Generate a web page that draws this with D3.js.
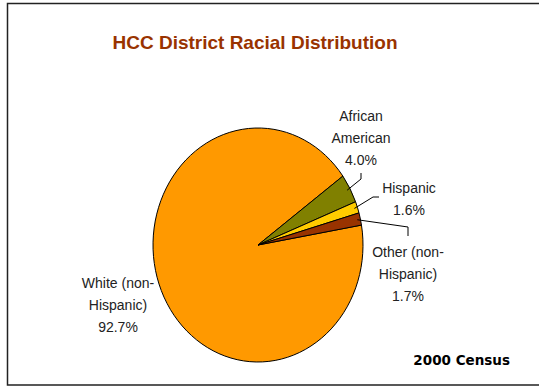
<!DOCTYPE html>
<html>
<head>
<meta charset="utf-8">
<script src="https://cdn.jsdelivr.net/npm/d3@7"></script>
<style>
  body { margin: 0; background: #fff; }
</style>
</head>
<body>
<div class="canvas"></div>
<script>
// Data
const categories = ['White (non-Hispanic)', 'African American', 'Hispanic', 'Other (non-Hispanic)']
const shares = [92.7, 4.0, 1.6, 1.7]
const labelLines = [
  ['White (non-', 'Hispanic)', '92.7%'],
  ['African', 'American', '4.0%'],
  ['Hispanic', '1.6%'],
  ['Other (non-', 'Hispanic)', '1.7%']
]
const colors = ['#FF9900', '#808000', '#FFCC00', '#993300']

const width = 539
const height = 387

const svg = d3.select('.canvas')
  .append('svg')
  .attr('width', width)
  .attr('height', height)

// Frame (right edge is cut off in the original)
svg.append('path')
  .attr('d', `M545,3.5 H7.5 V385 H545`)
  .attr('fill', 'none')
  .attr('stroke', '#222')
  .attr('stroke-width', 1.5)

// Title
svg.append('text')
  .attr('x', 255)
  .attr('y', 49)
  .attr('text-anchor', 'middle')
  .attr('font-family', 'Liberation Sans, Arial, sans-serif')
  .attr('font-weight', 'bold')
  .attr('font-size', 19)
  .attr('fill', '#993300')
  .text('HCC District Racial Distribution')

// Pie (drawn as an ellipse)
const cx = 258, cy = 245
const rx = 105, ry = 117
const start = 80.2 * Math.PI / 180

const pie = d3.pie()
  .sort(null)
  .value(d => d)
  .startAngle(start)
  .endAngle(start + 2 * Math.PI)

const arc = d3.arc()
  .innerRadius(0)
  .outerRadius(ry)

const slices = pie(shares)

const graph = svg.append('g')
  .attr('transform', `translate(${cx}, ${cy}) scale(${rx / ry}, 1)`)

graph.selectAll('path')
  .data(slices)
  .enter()
  .append('path')
  .attr('d', arc)
  .attr('fill', (d, i) => colors[i])
  .attr('stroke', '#000')
  .attr('stroke-width', 1)
  .attr('vector-effect', 'non-scaling-stroke')

// Labels
const labelPos = [
  { x: 118, y: 288 },
  { x: 361, y: 121 },
  { x: 409, y: 193 },
  { x: 408, y: 257 }
]

const labels = svg.append('g')
  .attr('font-family', 'Liberation Sans, Arial, sans-serif')
  .attr('font-size', 14)
  .attr('fill', '#222')
  .attr('text-anchor', 'middle')

labelLines.forEach((lines, i) => {
  const t = labels.append('text')
    .attr('x', labelPos[i].x)
    .attr('y', labelPos[i].y)
  lines.forEach((s, j) => {
    t.append('tspan')
      .attr('x', labelPos[i].x)
      .attr('dy', j === 0 ? 0 : 22)
      .text(s)
  })
})

// Leader lines from slice edge to label
const edgePoint = (d, r) => {
  const a = (d.startAngle + d.endAngle) / 2
  return [cx + rx * r * Math.sin(a), cy - ry * r * Math.cos(a)]
}
const leaders = [
  null,
  [[361, 173], [361, 179]],
  [[379, 197], [373, 197]],
  [[408, 236], [408, 227]]
]
slices.forEach((d, i) => {
  if (!leaders[i]) return
  const p = edgePoint(d, 0.97)
  const pts = [...leaders[i], p]
  svg.append('path')
    .attr('d', d3.line()(pts))
    .attr('fill', 'none')
    .attr('stroke', '#000')
    .attr('stroke-width', 1)
})

// Source note
svg.append('text')
  .attr('x', 510)
  .attr('y', 365)
  .attr('text-anchor', 'end')
  .attr('font-family', 'DejaVu Sans, sans-serif')
  .attr('font-weight', 'bold')
  .attr('font-size', 13.5)
  .attr('fill', '#000')
  .text('2000 Census')
</script>
</body>
</html>
